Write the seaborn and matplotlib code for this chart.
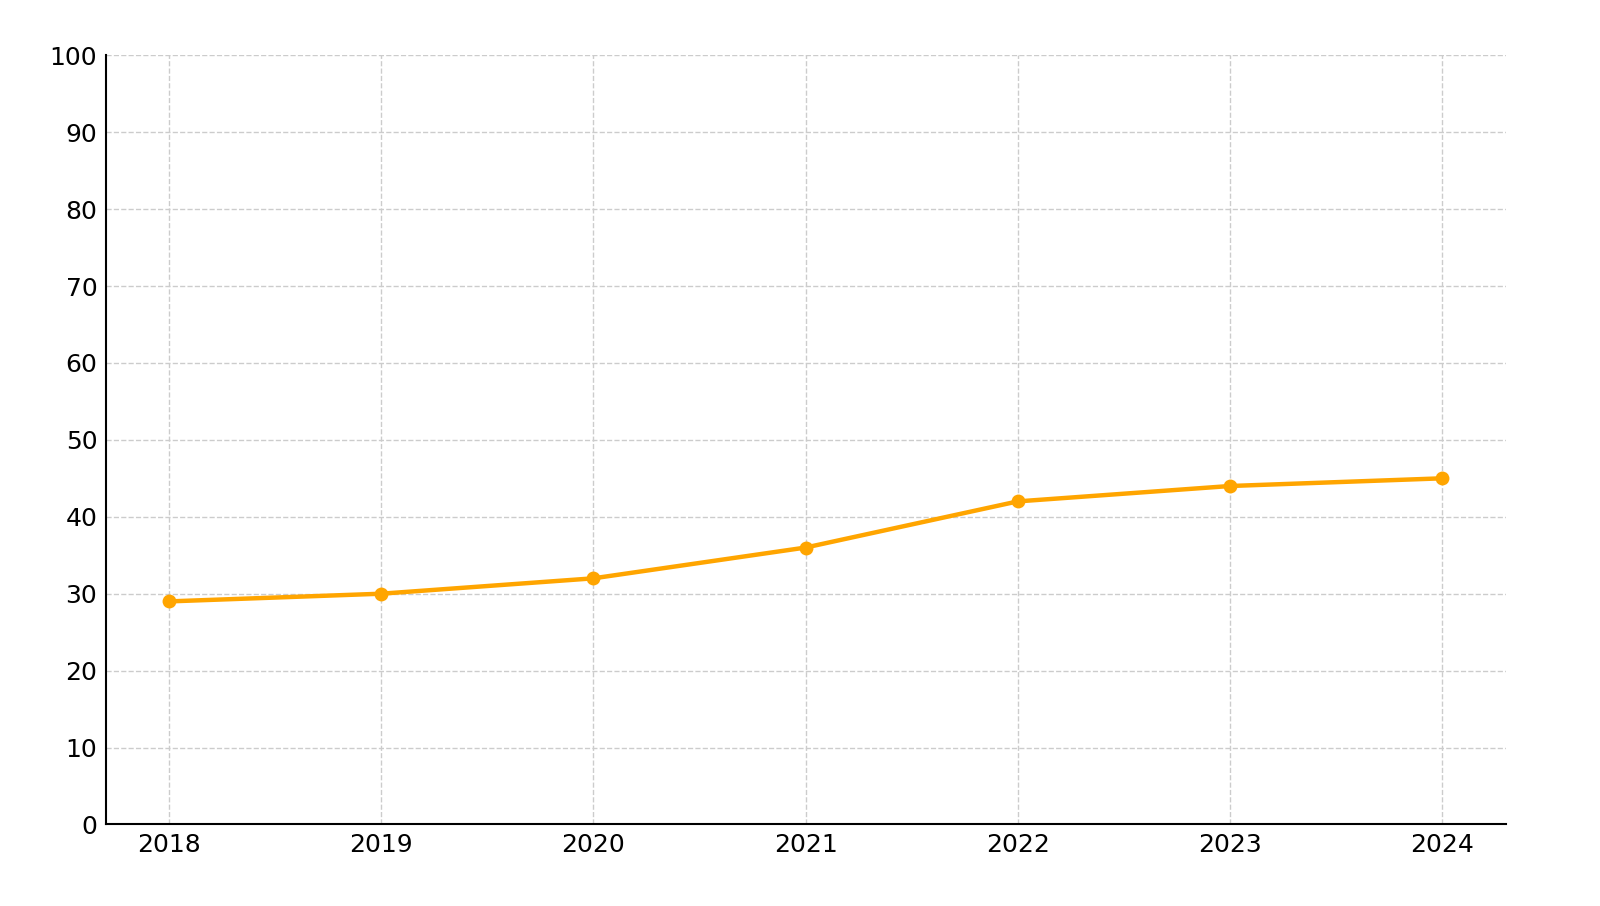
import pandas as pd
import matplotlib.pyplot as plt
import seaborn as sns

# Values
years = [2018, 2019, 2020, 2021, 2022, 2023, 2024]
values = [29, 30, 32, 36, 42, 44, 45]

df = pd.DataFrame({'year': years, 'value': values})

sns.set_style('white')
plt.rcParams['font.family'] = ['DejaVu Sans']

fig = plt.figure(figsize=(16, 9.06), dpi=100)
ax = fig.add_axes([0.066, 0.090, 0.875, 0.849])

sns.lineplot(data=df, x='year', y='value', ax=ax, color='#FFA500',
             linewidth=3.2, marker='o', markersize=10, markeredgewidth=0)

ax.set_ylim(0, 100)
ax.set_yticks(range(0, 101, 10))
ax.set_xticks(years)
ax.set_xticklabels([str(y) for y in years])
ax.set_xlabel('')
ax.set_ylabel('')

ax.grid(True, linestyle='--', color='#cccccc', linewidth=1)
ax.tick_params(direction='in', length=6, width=1.2, labelsize=18,
               colors='black', pad=6)
for s in ['top', 'right']:
    ax.spines[s].set_visible(False)
for s in ['left', 'bottom']:
    ax.spines[s].set_color('black')
    ax.spines[s].set_linewidth(1.5)

plt.savefig('out.png', dpi=100)
